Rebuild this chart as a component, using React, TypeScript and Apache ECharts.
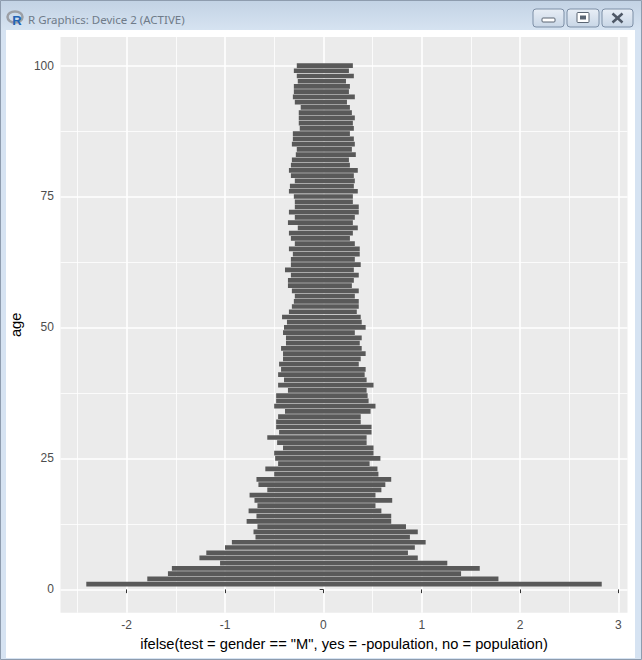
import React, { useEffect, useRef } from "react";
import * as echarts from "echarts";

// ---- data ----
const ages = Array.from({ length: 100 }, (_, i) => i + 1);
// population of males (drawn as -population), ages 1..100
const malePopulation = [
  2.41, 1.79, 1.58, 1.54, 1.05, 1.26, 1.19, 1.0, 0.93, 0.69,
  0.71, 0.67, 0.78, 0.68, 0.76, 0.67, 0.7, 0.75, 0.57, 0.66,
  0.68, 0.5, 0.59, 0.46, 0.49, 0.5, 0.41, 0.47, 0.57, 0.45,
  0.48, 0.48, 0.46, 0.39, 0.5, 0.48, 0.48, 0.36, 0.46, 0.4,
  0.46, 0.43, 0.45, 0.41, 0.41, 0.43, 0.38, 0.38, 0.41, 0.4,
  0.37, 0.42, 0.35, 0.32, 0.3, 0.29, 0.32, 0.36, 0.36, 0.33,
  0.39, 0.33, 0.33, 0.31, 0.35, 0.29, 0.33, 0.35, 0.26, 0.36,
  0.29, 0.35, 0.29, 0.29, 0.3, 0.35, 0.34, 0.29, 0.33, 0.35,
  0.33, 0.32, 0.28, 0.27, 0.32, 0.31, 0.31, 0.24, 0.25, 0.25,
  0.25, 0.23, 0.29, 0.31, 0.3, 0.3, 0.26, 0.27, 0.3, 0.27,
];
// population of females, ages 1..100
const femalePopulation = [
  2.83, 1.78, 1.4, 1.59, 1.26, 0.96, 0.86, 0.93, 1.04, 0.88,
  0.96, 0.84, 0.69, 0.69, 0.59, 0.53, 0.7, 0.53, 0.59, 0.63,
  0.69, 0.56, 0.55, 0.47, 0.58, 0.51, 0.51, 0.44, 0.44, 0.49,
  0.49, 0.38, 0.38, 0.48, 0.53, 0.46, 0.45, 0.44, 0.51, 0.44,
  0.42, 0.43, 0.36, 0.38, 0.43, 0.39, 0.37, 0.39, 0.32, 0.43,
  0.39, 0.38, 0.34, 0.36, 0.36, 0.32, 0.36, 0.29, 0.31, 0.36,
  0.31, 0.38, 0.32, 0.37, 0.37, 0.32, 0.27, 0.3, 0.35, 0.3,
  0.32, 0.36, 0.36, 0.3, 0.3, 0.35, 0.31, 0.32, 0.31, 0.35,
  0.27, 0.26, 0.33, 0.29, 0.32, 0.31, 0.27, 0.31, 0.3, 0.32,
  0.29, 0.27, 0.24, 0.32, 0.26, 0.27, 0.23, 0.31, 0.26, 0.3,
];
const xTicks = [-2, -1, 0, 1, 2, 3];
const xMinorBreaks = [-2.5, -1.5, -0.5, 0.5, 1.5, 2.5];
const yTicks = [0, 25, 50, 75, 100];
const yMinorBreaks = [12.5, 37.5, 62.5, 87.5];
const xTitle = 'ifelse(test = gender == "M", yes = -population, no = population)';
const yTitle = "age";
const windowTitle = "R Graphics: Device 2 (ACTIVE)";

export default function App() {
  const ref = useRef<HTMLDivElement>(null);
  useEffect(() => {
    if (!ref.current) return;
    const chart = echarts.init(ref.current, null, { renderer: "svg" });

    const values = ages.map((a, i) => [a, -malePopulation[i], femalePopulation[i]]);
    const all = values.flatMap((v) => [v[1], v[2]]);
    const dMin = Math.min(...all), dMax = Math.max(...all);
    const xPad = (dMax - dMin) * 0.05;
    const yLo = ages[0] - 0.45, yHi = ages[ages.length - 1] + 0.45;
    const yPad = (yHi - yLo) * 0.05;
    const xMin = dMin - xPad, xMax = dMax + xPad;
    const yMin = yLo - yPad, yMax = yHi + yPad;

    const font = "'Liberation Sans', Arial, sans-serif";
    const barColor = "#595959";

    const btn = (x: number, w: number) => ({
      type: "rect",
      shape: { x, y: 9, width: w, height: 18, r: 3 },
      style: {
        fill: new echarts.graphic.LinearGradient(0, 0, 0, 1, [
          { offset: 0, color: "#E8EEF6" },
          { offset: 1, color: "#C8D6E6" },
        ]),
        stroke: "#7D8FA6",
        lineWidth: 1,
      },
    });

    chart.setOption({
      animation: false,
      backgroundColor: "#ffffff",
      graphic: [
        {
          type: "rect",
          shape: { x: 0, y: 0, width: 642, height: 30 },
          style: {
            fill: new echarts.graphic.LinearGradient(0, 0, 0, 1, [
              { offset: 0, color: "#C2D2E4" },
              { offset: 1, color: "#D6E3F1" },
            ]),
          },
        },
        { type: "rect", shape: { x: 0, y: 30, width: 6, height: 630 }, style: { fill: "#D6E3F2" } },
        { type: "rect", shape: { x: 635, y: 30, width: 7, height: 630 }, style: { fill: "#D6E3F2" } },
        { type: "rect", shape: { x: 0, y: 658, width: 642, height: 2 }, style: { fill: "#D6E3F2" } },
        {
          type: "rect",
          shape: { x: 0.5, y: 0.5, width: 641, height: 659 },
          style: { fill: "none", stroke: "#8E9CAE", lineWidth: 1 },
        },
        {
          type: "ellipse",
          shape: { cx: 15, cy: 17, rx: 7.5, ry: 5.5 },
          style: { fill: "none", stroke: "#9C9FA5", lineWidth: 2.5 },
        },
        {
          type: "text",
          x: 17,
          y: 20,
          style: {
            text: "R",
            fill: "#2264B5",
            font: "bold 13px 'Liberation Sans', Arial, sans-serif",
            align: "center",
            verticalAlign: "middle",
          },
        },
        {
          type: "text",
          x: 28,
          y: 19,
          style: {
            text: windowTitle,
            fill: "#6F7B89",
            font: "11.5px 'Noto Sans', sans-serif",
            verticalAlign: "middle",
          },
        },
        btn(533, 31),
        btn(567, 32),
        btn(602, 31),
        {
          type: "rect",
          shape: { x: 542, y: 18, width: 13, height: 4, r: 1 },
          style: { fill: "#ffffff", stroke: "#5A6573", lineWidth: 1 },
        },
        {
          type: "rect",
          shape: { x: 577, y: 12.5, width: 12, height: 10, r: 1 },
          style: { fill: "#ffffff", stroke: "#5A6573", lineWidth: 1 },
        },
        {
          type: "rect",
          shape: { x: 580, y: 15.5, width: 6, height: 4 },
          style: { fill: "#5A6573" },
        },
        {
          type: "line",
          shape: { x1: 612.5, y1: 13.5, x2: 622.5, y2: 22.5 },
          style: { stroke: "#4E5866", lineWidth: 2.5 },
        },
        {
          type: "line",
          shape: { x1: 622.5, y1: 13.5, x2: 612.5, y2: 22.5 },
          style: { stroke: "#4E5866", lineWidth: 2.5 },
        },
      ],
      grid: {
        left: 59.3,
        right: 14.5,
        top: 37,
        bottom: 47.3,
        show: true,
        backgroundColor: "#EBEBEB",
        borderWidth: 0,
        containLabel: false,
      },
      xAxis: [
        {
          type: "value",
          min: xMin,
          max: xMax,
          name: xTitle,
          nameLocation: "middle",
          nameGap: 22,
          nameTextStyle: { color: "#000000", fontSize: 14.7, fontFamily: font },
          axisLine: { show: false },
          axisTick: { show: true, length: 3.7, lineStyle: { color: "#333333", width: 1 }, customValues: xTicks },
          axisLabel: { show: true, margin: 6.6, color: "#4D4D4D", fontSize: 12, fontFamily: font, customValues: xTicks },
          splitLine: { show: true, lineStyle: { color: "#ffffff", width: 1.6 } },
        },
        {
          type: "value",
          min: xMin,
          max: xMax,
          axisLine: { show: false },
          axisTick: { show: false, customValues: xMinorBreaks },
          axisLabel: { show: false, customValues: xMinorBreaks },
          splitLine: { show: true, lineStyle: { color: "#ffffff", width: 0.8 } },
        },
      ],
      yAxis: [
        {
          type: "value",
          min: yMin,
          max: yMax,
          name: yTitle,
          nameLocation: "middle",
          nameGap: 31,
          nameRotate: 90,
          nameTextStyle: { color: "#000000", fontSize: 14.7, fontFamily: font },
          axisLine: { show: false },
          axisTick: { show: true, length: 3.7, lineStyle: { color: "#333333", width: 1 }, customValues: yTicks },
          axisLabel: { show: true, margin: 6.6, color: "#4D4D4D", fontSize: 12, fontFamily: font, customValues: yTicks },
          splitLine: { show: true, lineStyle: { color: "#ffffff", width: 1.6 } },
        },
        {
          type: "value",
          min: yMin,
          max: yMax,
          axisLine: { show: false },
          axisTick: { show: false, customValues: yMinorBreaks },
          axisLabel: { show: false, customValues: yMinorBreaks },
          splitLine: { show: true, lineStyle: { color: "#ffffff", width: 0.8 } },
        },
      ],
      series: [
        {
          type: "custom",
          xAxisIndex: 0,
          yAxisIndex: 0,
          data: values,
          encode: { x: [1, 2], y: 0 },
          renderItem: (_params: any, api: any) => {
            const age = api.value(0);
            const m = api.value(1);
            const f = api.value(2);
            const p1 = api.coord([m, age + 0.45]);
            const p2 = api.coord([f, age - 0.45]);
            return {
              type: "rect",
              shape: { x: p1[0], y: p1[1], width: p2[0] - p1[0], height: p2[1] - p1[1] },
              style: { fill: barColor },
            };
          },
        },
      ],
    });
    return () => chart.dispose();
  }, []);
  return (
    <div
      ref={ref}
      style={{ position: "fixed", left: 0, top: 0, width: 642, height: 660 }}
    />
  );
}
